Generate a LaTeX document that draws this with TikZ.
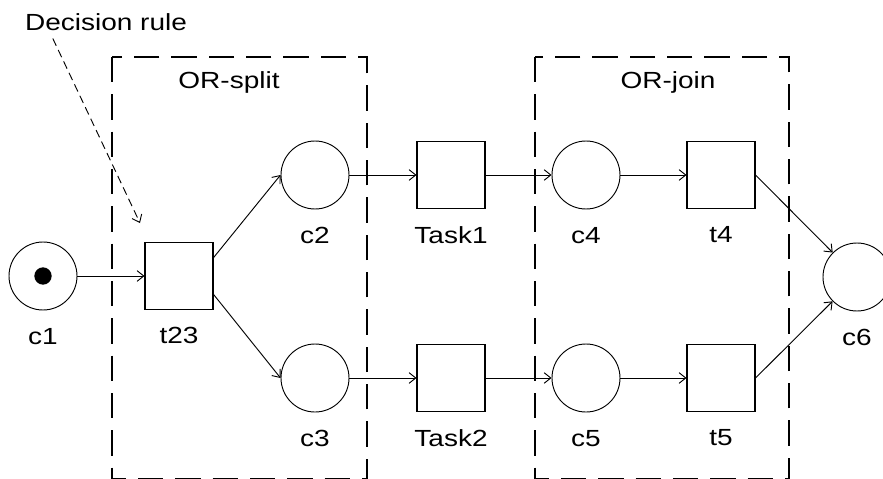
\documentclass[tikz,border=0pt]{standalone}
\usepackage{fontspec}
\setmainfont[FakeStretch=1.2]{Liberation Sans}
\usetikzlibrary{arrows.meta, positioning}
\tikzset{
    place/.style={circle, draw, line width=0.7pt, minimum size=51pt, inner sep=0pt},
    trans/.style={rectangle, draw, line width=0.8pt, minimum width=51pt, minimum height=50pt, inner sep=0pt},
    token/.style={circle, fill=black, minimum size=13pt, inner sep=0pt},
    lbl/.style={font=\fontsize{17.5}{21}\selectfont, inner sep=0pt},
    region/.style={draw, line width=0.9pt, dash pattern=on 19pt off 9pt},
    arc/.style={draw, line width=0.7pt, -{Straight Barb[length=5pt, width=8pt]}},
    hint/.style={draw, line width=0.7pt, dash pattern=on 6pt off 3.5pt, -{Straight Barb[length=5pt, width=8pt]}},
    every label/.style={lbl},
}

\begin{document}
\begin{tikzpicture}[x=0.75pt, y=-0.75pt, label distance=13pt]
    \useasboundingbox (0,0) rectangle (883,479);

    % Regions
    \draw[region] (112,57) rectangle (367,479);
    \draw[region] (535,57) rectangle (789,479);
    \node[lbl, anchor=base] (orsplit) at (229,88) {OR-split};
    \node[lbl, anchor=base] (orjoin) at (668,88) {OR-join};

    % Places and transitions
    \node[place, label=below:c1] (c1) at (43,276) {};
    \node[token] (tok) at (c1) {};
    \node[trans, label=below:t23] (t23) at (179,276) {};
    \node[place, label=below:c2] (c2) at (315,175) {};
    \node[place, label=below:c3] (c3) at (315,378) {};
    \node[trans, label=below:Task1] (task1) at (451,175) {};
    \node[trans, label=below:Task2] (task2) at (451,378) {};
    \node[place, label=below:c4] (c4) at (586,175) {};
    \node[place, label=below:c5] (c5) at (586,378) {};
    \node[trans, label=below:t4] (t4) at (721,175) {};
    \node[trans, label=below:t5] (t5) at (721,378) {};
    \node[place, label=below:c6] (c6) at (857,277) {};

    % Arcs
    \draw[arc] (c1) -- (t23);
    \draw[arc] (t23.28) -- (c2.west);
    \draw[arc] (t23.-28) -- (c3.west);
    \draw[arc] (c2) -- (task1);
    \draw[arc] (c3) -- (task2);
    \draw[arc] (task1) -- (c4);
    \draw[arc] (task2) -- (c5);
    \draw[arc] (c4) -- (t4);
    \draw[arc] (c5) -- (t5);
    \draw[arc] (t4.east) -- (c6);
    \draw[arc] (t5.east) -- (c6);

    % Decision rule
    \node[lbl, anchor=base] (rule) at (106,30) {Decision rule};
    \coordinate (ruletip) at (140,223);
    \draw[hint] ([xshift=21pt, yshift=-6pt]rule.south west) -- (ruletip);
\end{tikzpicture}
\end{document}
